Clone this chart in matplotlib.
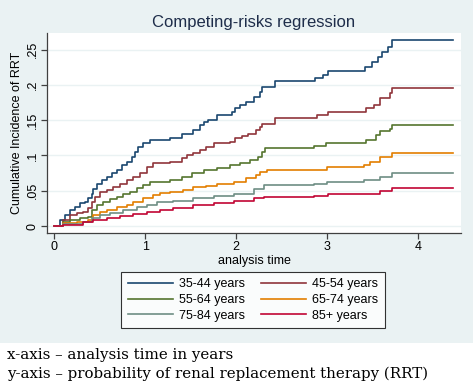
import numpy as np
import matplotlib
matplotlib.use("Agg")
import matplotlib.pyplot as plt
from matplotlib.patches import Rectangle

plt.rcParams['font.family'] = ['Liberation Sans', 'DejaVu Sans']

# step points (time in years, cumulative incidence)
t_3544 = [0, .063, .118, .17, .227, .28, .337, .375, .41, .43, .466, .52, .576, .63, .686, .74,
          .795, .85, .887, .923, .978, 1.05, 1.27, 1.40, 1.53, 1.60, 1.64, 1.69, 1.785, 1.95,
          1.985, 2.04, 2.11, 2.19, 2.26, 2.28, 2.425, 2.865, 2.955, 3.01, 3.414, 3.49, 3.56,
          3.60, 3.67, 3.71, 4.38]
ci_3544 = [0, .0085, .0156, .0227, .027, .032, .0344, .039, .046, .053, .060, .065, .070, .0746,
           .079, .0864, .091, .098, .105, .112, .117, .122, .124, .131, .136, .143, .148, .150,
           .157, .162, .1667, .171, .176, .183, .190, .197, .206, .210, .214, .220, .2257,
           .2327, .239, .247, .254, .263, .263]

t_4554 = [0, .1, .17, .246, .32, .375, .41, .447, .50, .576, .65, .72, .795, .87, .94, 1.015,
          1.09, 1.27, 1.40, 1.46, 1.53, 1.60, 1.67, 1.76, 1.93, 1.99, 2.06, 2.13, 2.22, 2.26,
          2.28, 2.425, 2.885, 3.01, 3.43, 3.51, 3.58, 3.69, 3.71, 4.38]
ci_4554 = [0, .0085, .0156, .018, .020, .025, .0344, .0415, .0486, .051, .0557, .060, .065,
           .070, .0746, .084, .0888, .091, .096, .1006, .103, .1076, .112, .117, .1195, .124,
           .1275, .131, .136, .1406, .1445, .1525, .157, .162, .1667, .171, .182, .188, .195,
           .195]

t_5564 = [0, .1, .17, .28, .375, .41, .466, .54, .61, .686, .76, .83, .905, .98, 1.05, 1.27,
          1.40, 1.51, 1.64, 1.785, 1.93, 2.04, 2.15, 2.24, 2.28, 2.32, 2.85, 2.99, 3.43, 3.54,
          3.58, 3.69, 3.71, 4.38]
ci_5564 = [0, .006, .0085, .011, .013, .0227, .0297, .0344, .038, .0415, .046, .0486, .0534,
           .058, .063, .065, .070, .0746, .079, .0817, .0864, .0897, .0935, .098, .105, .110,
           .113, .117, .122, .129, .1345, .138, .1435, .1435]

t_6574 = [0, .1, .246, .375, .43, .50, .576, .686, .795, .87, .98, 1.09, 1.16, 1.27, 1.42,
          1.53, 1.67, 1.785, 1.97, 2.11, 2.22, 2.26, 2.34, 3.0, 3.40, 3.47, 3.58, 3.71, 4.38]
ci_6574 = [0, .0038, .006, .0085, .0156, .020, .0227, .027, .0297, .0344, .039, .044, .0464,
           .0486, .051, .0548, .0567, .060, .063, .0675, .072, .077, .0793, .084, .0864, .091,
           .098, .104, .104]

t_7584 = [0, .1, .32, .41, .50, .61, .76, .905, 1.015, 1.125, 1.31, 1.53, 1.75, 1.97, 2.19,
          2.30, 2.85, 3.0, 3.40, 3.58, 3.71, 4.38]
ci_7584 = [0, .003, .006, .011, .0156, .018, .0227, .027, .0297, .0344, .036, .039, .0425,
           .046, .052, .058, .060, .063, .065, .070, .0755, .0755]

t_85 = [0, .1, .32, .43, .576, .72, .87, 1.015, 1.16, 1.31, 1.53, 1.75, 1.97, 2.19, 2.30,
        2.85, 3.01, 3.40, 3.58, 3.71, 4.38]
ci_85 = [0, .002, .005, .0085, .011, .014, .017, .020, .0227, .025, .0297, .032, .0354, .039,
         .0415, .0425, .045, .046, .050, .054, .054]

labels = ['35-44 years', '45-54 years', '55-64 years', '65-74 years', '75-84 years', '85+ years']
colors = ['#1a476f', '#90353b', '#55752f', '#e37e00', '#6e8e84', '#c10534']
series = [(t_3544, ci_3544), (t_4554, ci_4554), (t_5564, ci_5564),
          (t_6574, ci_6574), (t_7584, ci_7584), (t_85, ci_85)]

W, H = 473, 382
fig = plt.figure(figsize=(W / 100, H / 100), dpi=100)
fig.patch.set_facecolor('white')
# Stata graph region background
fig.patches.append(Rectangle((0, (H - 343) / H), 1, 343 / H, transform=fig.transFigure,
                             facecolor='#eaf2f3', edgecolor='none', zorder=-10))

ax = fig.add_axes([47 / W, (H - 233) / H, (461 - 47) / W, (233 - 33) / H])
ax.set_facecolor('white')

lines = []
for (t, ci), c, lab in zip(series, colors, labels):
    ln, = ax.plot(t, ci, drawstyle='steps-post', color=c, lw=1.2, label=lab)
    lines.append(ln)

ax.set_xlim(-0.08, 4.47)
ax.set_ylim(-0.0099, 0.2734)
ax.set_xticks([0, 1, 2, 3, 4])
ax.set_xticklabels(['0', '1', '2', '3', '4'])
yt = [0, 0.05, 0.1, 0.15, 0.2, 0.25]
ax.set_yticks(yt)
ax.set_yticklabels(['0', '.05', '.1', '.15', '.2', '.25'], rotation=90, va='center')
ax.grid(axis='y', color='#eaf2f3', lw=1.0)
ax.set_axisbelow(True)
for s in ['top', 'right']:
    ax.spines[s].set_visible(False)
for s in ['left', 'bottom']:
    ax.spines[s].set_color('#404040')
    ax.spines[s].set_linewidth(0.9)
ax.tick_params(axis='both', length=4, width=0.9, color='#404040', labelsize=9, pad=2)

ax.set_xlabel('analysis time', fontsize=9, labelpad=1)
ax.set_ylabel('Cumulative Incidence of RRT', fontsize=9, labelpad=3)
fig.text(254 / W, 1 - 22 / H, 'Competing-risks regression', ha='center', va='center',
         fontsize=12, color='#1e2d4a')

order = [0, 2, 4, 1, 3, 5]
leg = fig.legend([lines[i] for i in order], [labels[i] for i in order], ncol=2,
                 loc='center', bbox_to_anchor=(253 / W, 1 - 300 / H),
                 fontsize=9, handlelength=3.6, handletextpad=0.5, columnspacing=1.3,
                 labelspacing=0.3, borderpad=0.5, fancybox=False, frameon=True)
leg.get_frame().set_edgecolor('black')
leg.get_frame().set_linewidth(0.8)

fig.text(7 / W, 1 - 355 / H, 'x-axis \u2013 analysis time in years', ha='left', va='center',
         fontsize=10.8, family=['DejaVu Serif'])
fig.text(7 / W, 1 - 374 / H, 'y-axis \u2013 probability of renal replacement therapy (RRT)',
         ha='left', va='center', fontsize=10.8, family=['DejaVu Serif'])

fig.savefig('out.png', dpi=100)
